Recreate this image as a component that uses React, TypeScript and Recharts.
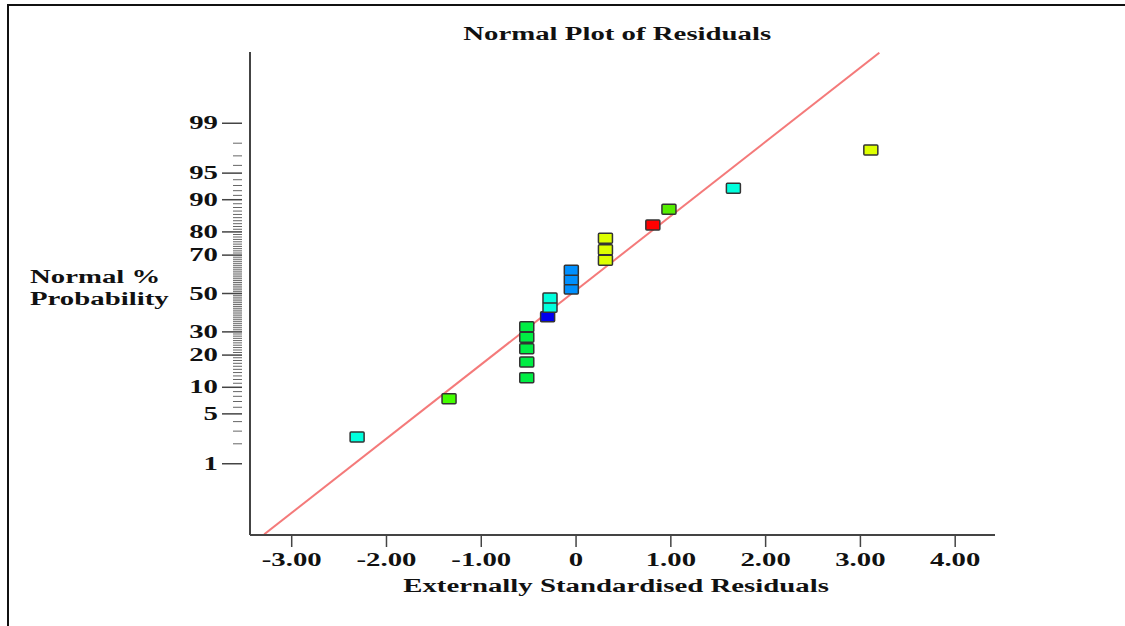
import { ScatterChart, Scatter, XAxis, YAxis, Cell, ReferenceLine } from "recharts"

// residuals (x) and their normal % probability (y)
const residuals = [-2.31, -1.34, -0.52, -0.52, -0.52, -0.52, -0.52, -0.3, -0.275, -0.275, -0.05, -0.05, -0.05, 0.31, 0.31, 0.31, 0.81, 0.98, 1.66, 3.11]
const probabilities = [2.5, 7.5, 12.5, 17.5, 22.5, 27.5, 32.5, 37.5, 42.5, 47.5, 52.5, 57.5, 62.5, 67.5, 72.5, 77.5, 82.5, 87.5, 92.5, 97.5]
const colors = [
  "#00ffdd", "#44ff00", "#00ee44", "#00ee44", "#00ee44", "#00ee44", "#00ee44", "#0000ee", "#00ffdd", "#00ffdd",
  "#0090ff", "#0090ff", "#0090ff", "#ddff00", "#ddff00", "#ddff00", "#ff0000", "#55ee00", "#00ffdd", "#ddff00",
]
const fitLine = [
  { x: -3.29, p: 0.05 },
  { x: 3.2, p: 99.95 },
]
const xTicks = [-3, -2, -1, 0, 1, 2, 3, 4]
const yMajor = [1, 5, 10, 20, 30, 50, 70, 80, 90, 95, 99]
const yMinor = Array.from({ length: 97 }, (_, i) => i + 2)

// inverse normal cdf (Acklam) — maps % probability onto the normal scale
function probit(pct: number) {
  const p = pct / 100
  const a = [-39.69683028665376, 220.9460984245205, -275.9285104469687, 138.357751867269, -30.66479806614716, 2.506628277459239]
  const b = [-54.47609879822406, 161.5858368580409, -155.6989798598866, 66.80131188771972, -13.28068155288572]
  const c = [-0.007784894002430293, -0.3223964580411365, -2.400758277161838, -2.549732539343734, 4.374664141464968, 2.938163982698783]
  const d = [0.007784695709041462, 0.3224671290700398, 2.445134137142996, 3.754408661907416]
  const lo = 0.02425
  if (p < lo) {
    const q = Math.sqrt(-2 * Math.log(p))
    return (((((c[0] * q + c[1]) * q + c[2]) * q + c[3]) * q + c[4]) * q + c[5]) / ((((d[0] * q + d[1]) * q + d[2]) * q + d[3]) * q + 1)
  }
  if (p > 1 - lo) {
    const q = Math.sqrt(-2 * Math.log(1 - p))
    return -(((((c[0] * q + c[1]) * q + c[2]) * q + c[3]) * q + c[4]) * q + c[5]) / ((((d[0] * q + d[1]) * q + d[2]) * q + d[3]) * q + 1)
  }
  const q = p - 0.5
  const r = q * q
  return ((((((a[0] * r + a[1]) * r + a[2]) * r + a[3]) * r + a[4]) * r + a[5]) * q) / (((((b[0] * r + b[1]) * r + b[2]) * r + b[3]) * r + b[4]) * r + 1)
}

const points = residuals.map((x, i) => ({ x, z: probit(probabilities[i]) }))
const segment = fitLine.map((d) => ({ x: d.x, y: probit(d.p) }))
const majorZ = yMajor.map((v) => ({ z: probit(v), label: String(v) }))
const allTicks = [...majorZ.map((m) => m.z), ...yMinor.filter((v) => !yMajor.includes(v)).map(probit)]

const FONT = '"Liberation Serif", "Times New Roman", serif'
const INK = "#111"
const STRETCH = 1.6 // the source image is stretched sideways

function Wide({ x, y, anchor, children }: any) {
  return (
    <g transform={`translate(${x},${y}) scale(${STRETCH},1)`}>
      <text x={0} y={0} textAnchor={anchor} fontFamily={FONT} fontWeight="bold" fontSize={18} fill={INK}>
        {children}
      </text>
    </g>
  )
}

function YTick({ x, y, payload }: any) {
  const major = majorZ.find((m) => Math.abs(m.z - payload.value) < 1e-9)
  if (major) {
    return (
      <g>
        <line x1={x - 20} x2={x} y1={y} y2={y} stroke="#444" strokeWidth={1.5} />
        <Wide x={x - 24} y={y + 6} anchor="end">{major.label}</Wide>
      </g>
    )
  }
  return <line x1={x - 9} x2={x} y1={y} y2={y} stroke="#666" strokeWidth={1} />
}

function XTick({ x, y, payload }: any) {
  const v = payload.value as number
  return <Wide x={x} y={y + 17} anchor="middle">{v === 0 ? "0" : v.toFixed(2)}</Wide>
}

function Box(props: any) {
  const { cx, cy, fill } = props
  return <rect x={cx - 7} y={cy - 5} width={14} height={10} rx={1} fill={fill} stroke="#333" strokeWidth={1.5} />
}

const titleStyle = (top: number, center: number): any => ({
  position: "absolute",
  top,
  left: center - 400,
  width: 800,
  textAlign: "center",
  fontWeight: "bold",
  fontSize: 18,
  color: INK,
})

export default function App() {
  return (
    <div style={{ position: "absolute", left: 0, top: 0, width: 1125, height: 626, background: "#fff", fontFamily: FONT, overflow: "hidden" }}>
      <div style={{ position: "absolute", left: 7, top: 4, width: 1118, height: 622, borderLeft: "2px solid #111", borderTop: "2px solid #111" }} />
      <div style={titleStyle(24, 617)}>
        <span style={{ display: "inline-block", transform: `scaleX(${STRETCH})` }}>Normal Plot of Residuals</span>
      </div>
      <div style={titleStyle(576, 616)}>
        <span style={{ display: "inline-block", transform: `scaleX(${STRETCH})` }}>Externally Standardised Residuals</span>
      </div>
      <div
        style={{
          position: "absolute",
          left: 30,
          top: 266,
          fontWeight: "bold",
          fontSize: 18,
          lineHeight: "22px",
          color: INK,
          transform: `scaleX(${STRETCH})`,
          transformOrigin: "left top",
        }}
      >
        Normal %
        <br />
        Probability
      </div>
      <ScatterChart width={1125} height={626} margin={{ top: 52, right: 130, bottom: 0, left: 0 }}>
        <XAxis
          type="number"
          dataKey="x"
          domain={[-3.44, 4.42]}
          ticks={xTicks}
          allowDataOverflow
          tick={<XTick />}
          tickLine={{ stroke: "#444", strokeWidth: 1.5 }}
          tickSize={12}
          axisLine={{ stroke: "#444", strokeWidth: 2 }}
          height={91}
        />
        <YAxis
          type="number"
          dataKey="z"
          domain={[-3.3, 3.3]}
          ticks={allTicks}
          interval={0}
          allowDataOverflow
          width={250}
          tick={<YTick />}
          tickLine={false}
          axisLine={{ stroke: "#444", strokeWidth: 2 }}
        />
        <XAxis xAxisId="top" orientation="top" type="number" dataKey="x" domain={[-3.44, 4.42]} tick={false} tickLine={false} axisLine={{ stroke: "#444", strokeWidth: 2 }} height={0} />
        <YAxis yAxisId="right" orientation="right" type="number" dataKey="z" domain={[-3.3, 3.3]} tick={false} tickLine={false} axisLine={{ stroke: "#444", strokeWidth: 2.5 }} width={0} />
        <ReferenceLine segment={segment} stroke="#f47a7a" strokeWidth={2} ifOverflow="hidden" />
        <Scatter data={points} shape={<Box />} isAnimationActive={false}>
          {points.map((_, i) => (
            <Cell key={i} fill={colors[i]} />
          ))}
        </Scatter>
      </ScatterChart>
    </div>
  )
}
